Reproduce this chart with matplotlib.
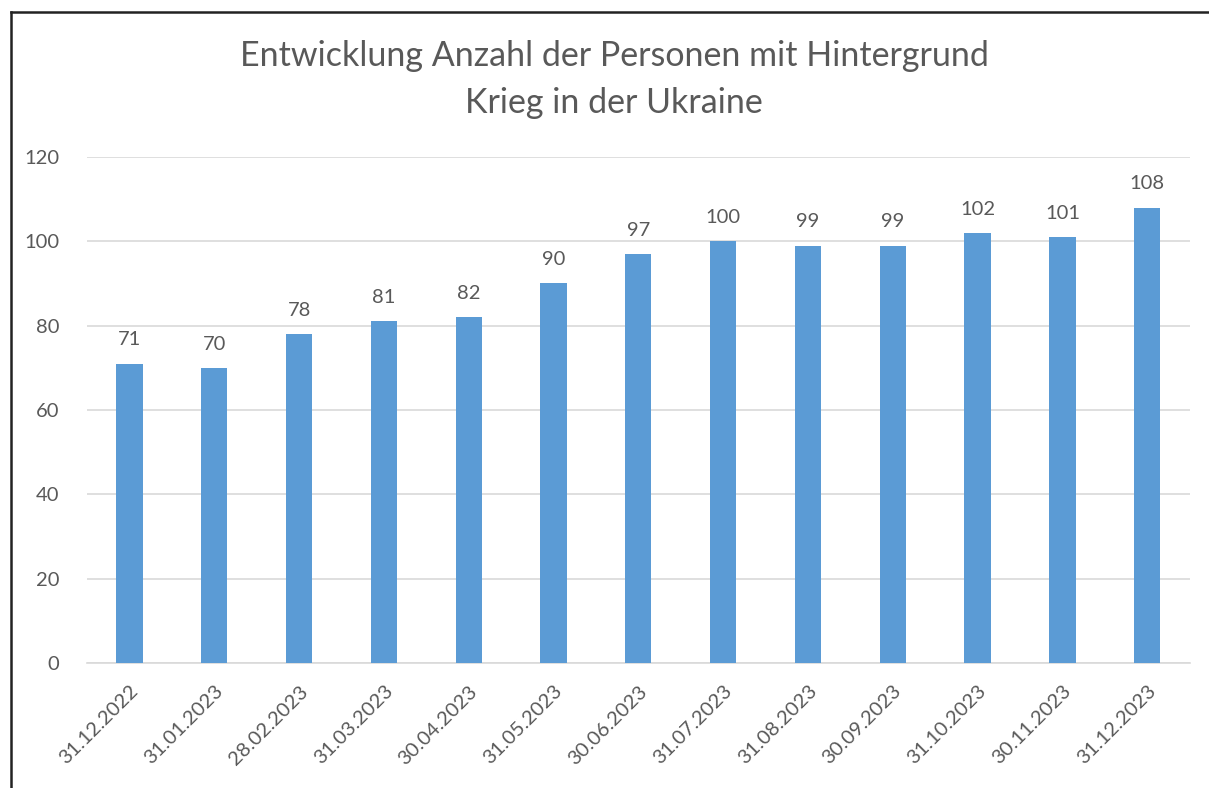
import matplotlib
matplotlib.use("Agg")
import matplotlib.pyplot as plt
from matplotlib.lines import Line2D

dates = [
    "31.12.2022", "31.01.2023", "28.02.2023", "31.03.2023", "30.04.2023",
    "31.05.2023", "30.06.2023", "31.07.2023", "31.08.2023", "30.09.2023",
    "31.10.2023", "30.11.2023", "31.12.2023",
]
personen = [71, 70, 78, 81, 82, 90, 97, 100, 99, 99, 102, 101, 108]
y_ticks = [0, 20, 40, 60, 80, 100, 120]

text_color = "#595959"
bar_color = "#5B9BD5"
grid_color = "#D9D9D9"

plt.rcParams["font.family"] = ["Lato", "DejaVu Sans"]

fig = plt.figure(figsize=(12.09, 7.88), dpi=100)
ax = fig.add_axes([0.072, 0.1586, 0.912, 0.6422])

x = list(range(len(dates)))
bars = ax.bar(x, personen, width=0.31, color=bar_color, zorder=3)
ax.bar_label(bars, labels=[str(v) for v in personen], padding=11,
             color=text_color, fontsize=14.5)

ax.set_xlim(-0.5, len(dates) - 0.5)
ax.set_ylim(0, 120)
ax.set_yticks(y_ticks)
ax.set_yticklabels([str(v) for v in y_ticks], color=text_color, fontsize=14.5)
ax.yaxis.grid(True, color=grid_color, lw=1.2, zorder=0)
ax.tick_params(axis="y", length=0, pad=20)
ax.tick_params(axis="x", length=0, pad=14)
ax.set_xticks(x)
ax.set_xticklabels(dates, rotation=45, ha="right", rotation_mode="anchor",
                   color=text_color, fontsize=14.5)
for side in ["top", "right", "left"]:
    ax.spines[side].set_visible(False)
ax.spines["bottom"].set_color(grid_color)
ax.spines["bottom"].set_linewidth(1.2)

fig.text(0.508, 0.899, "Entwicklung Anzahl der Personen mit Hintergrund\nKrieg in der Ukraine",
         ha="center", va="center", fontsize=24.5, color=text_color, linespacing=1.55)

# chart frame (left and top edge visible)
fig.add_artist(Line2D([11 / 1209, 11 / 1209], [0, 1 - 12 / 788], color="#222222", lw=1.8))
fig.add_artist(Line2D([11 / 1209, 1], [1 - 12 / 788, 1 - 12 / 788], color="#222222", lw=1.8))

fig.savefig("out.png", dpi=100)
